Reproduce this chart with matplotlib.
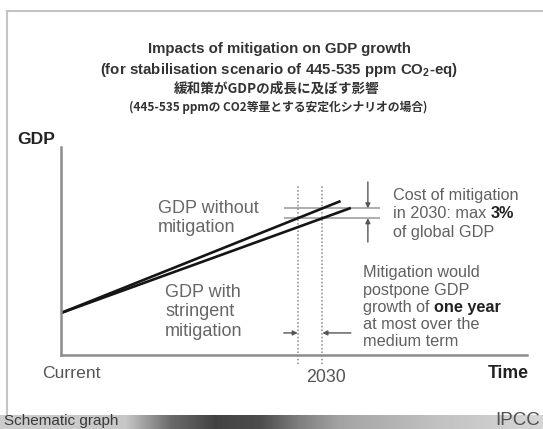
import numpy as np
import matplotlib
matplotlib.use('Agg')
import matplotlib.pyplot as plt
from matplotlib.lines import Line2D

plt.rcParams['font.family'] = ['Liberation Sans', 'Noto Sans CJK JP', 'DejaVu Sans']
plt.rcParams['mathtext.fontset'] = 'custom'
plt.rcParams['mathtext.rm'] = 'Liberation Sans'
plt.rcParams['mathtext.bf'] = 'Liberation Sans:bold'

W, H = 543, 429

# schematic time axis (years) and GDP (arbitrary units)
year_current = 2007
year_2030 = 2030
year_axis_end = 2048
gdp_top = 100

years_without = [2007, 2031.6]
gdp_without = [20.2, 74.0]
years_with = [2007, 2032.5]
gdp_with = [20.2, 70.7]

title_lines = ["Impacts of mitigation on GDP growth",
               "(for stabilisation scenario of 445-535 ppm CO$_\\mathbf{2}$-eq)"]
jp_lines = ["緩和策がGDPの成長に及ぼす影響",
            "(445-535 ppmの CO2等量とする安定化シナリオの場合)"]

cost_lines = [[("Cost of mitigation", False)],
              [("in 2030: max", False), ("3%", True)],
              [("of global GDP", False)]]
delay_lines = [[("Mitigation would", False)],
               [("postpone GDP", False)],
               [("growth of", False), ("one year", True)],
               [("at most over the", False)],
               [("medium term", False)]]

# footer band shades (column position in px, gray level)
band_x = [0, 125, 170, 215, 260, 300, 340, 440, 543]
band_gray = [0.80, 0.78, 0.42, 0.26, 0.30, 0.50, 0.64, 0.76, 0.84]


def fx(x):
    return x / W


def fy(y):
    return 1 - y / H


fig = plt.figure(figsize=(W / 100, H / 100), dpi=100)

# slide frame
fig.add_artist(Line2D([fx(7), fx(7)], [fy(11), fy(415)], color='#c4c4c4', lw=1.5))
fig.add_artist(Line2D([fx(7), 1.0], [fy(11), fy(11)], color='#c4c4c4', lw=1.5))

# footer band
bar = fig.add_axes([0, 0, 1, 14 / H])
cols = np.interp(np.arange(W), band_x, band_gray)
bar.imshow(cols[np.newaxis, :], cmap='gray', vmin=0, vmax=1, aspect='auto',
           extent=[0, W, 0, 1])
bar.axis('off')
fig.text(fx(4), fy(424.5), "Schematic graph", fontsize=11, color='#3a3a3a',
         ha='left', va='baseline')
fig.text(fx(540), fy(425), "IPCC", fontsize=13.5, color='#505050',
         ha='right', va='baseline')

# titles
for i, s in enumerate(title_lines):
    fig.text(fx(279), fy(49 + 21 * i), s, fontsize=10.8, fontweight='bold',
             color='#333333', ha='center', va='center')
fig.text(fx(277), fy(89), jp_lines[0], fontsize=9.8, fontweight='bold',
         color='#333333', ha='center', va='center', family=['Noto Sans CJK JP'])
fig.text(fx(278), fy(107), jp_lines[1], fontsize=8.5, fontweight='bold',
         color='#333333', ha='center', va='center', family=['Noto Sans CJK JP'])

# main axes
ax = fig.add_axes([fx(61), fy(355), (527 - 61) / W, (355 - 147) / H])
ax.set_xlim(year_current, year_axis_end)
ax.set_ylim(0, gdp_top)
for side in ['top', 'right']:
    ax.spines[side].set_visible(False)
for side in ['left', 'bottom']:
    ax.spines[side].set_color('#8c8c8c')
    ax.spines[side].set_linewidth(1.8)
ax.set_xticks([])
ax.set_yticks([])
ax.patch.set_alpha(0)

level_without = np.interp(year_2030, years_without, gdp_without)
level_with = np.interp(year_2030, years_with, gdp_with)
year_reached = np.interp(level_with, gdp_without, years_without)

# reference levels at 2030
ax.hlines([level_without, level_with], 2026.6, 2035.1, color='#a0a0a0', lw=1.2)

# dotted verticals: year the unmitigated path reaches the mitigated 2030 level, and 2030
for yr in [year_reached, year_2030]:
    ax.plot([yr, yr], [-4.5, 81.7], color='#8a8a8a', lw=1.1, ls=(0, (1, 1.4)),
            clip_on=False)

ax.plot(years_without, gdp_without, color='#151515', lw=1.9, solid_capstyle='butt')
ax.plot(years_with, gdp_with, color='#151515', lw=1.9, solid_capstyle='butt')

arrow = dict(arrowstyle='-|>', color='#555555', lw=1.0, mutation_scale=7,
             shrinkA=0, shrinkB=0)
ax.annotate('', xy=(2034.0, level_without), xytext=(2034.0, 83.2), arrowprops=arrow)
ax.annotate('', xy=(2034.0, level_with), xytext=(2034.0, 54.3), arrowprops=arrow)
ax.annotate('', xy=(year_reached, 10.6), xytext=(2026.6, 10.6), arrowprops=arrow)
ax.annotate('', xy=(year_2030, 10.6), xytext=(2032.5, 10.6), arrowprops=arrow)

# axis labels
fig.text(fx(36), fy(140), "GDP", fontsize=12.6, fontweight='bold', color='#222222',
         ha='center', va='center')
fig.text(fx(71), fy(374), "Current", fontsize=12.6, color='#555555',
         ha='center', va='center')
fig.text(fx(326), fy(378), "2030", fontsize=12.8, color='#555555',
         ha='center', va='center')
fig.text(fx(508), fy(374), "Time", fontsize=12.7, fontweight='bold', color='#222222',
         ha='center', va='center')

fig.text(fx(158), fy(218), "GDP without\nmitigation", fontsize=13, color='#666666',
         ha='left', va='center', linespacing=1.15)
fig.text(fx(165), fy(312), "GDP with\nstringent\nmitigation", fontsize=13,
         color='#666666', ha='left', va='center', linespacing=1.18)


def rich_lines(x, y0, step, lines, size):
    # each line may mix regular and bold pieces; later pieces follow the previous one
    for i, parts in enumerate(lines):
        prev = None
        for s, bold in parts:
            kw = dict(fontsize=size, fontweight='bold' if bold else 'normal',
                      color='#222222' if bold else '#606060')
            if prev is None:
                prev = fig.text(fx(x), fy(y0 + step * i), s, ha='left',
                                va='center', **kw)
            else:
                prev = ax.annotate(s, xy=(1, 0), xycoords=prev,
                                   xytext=(size * 0.28, 0), textcoords='offset points',
                                   ha='left', va='bottom', **kw)


rich_lines(393, 195, 18.5, cost_lines, 11.7)
rich_lines(363, 273, 17.2, delay_lines, 11.7)

fig.savefig('out.png', dpi=100)
